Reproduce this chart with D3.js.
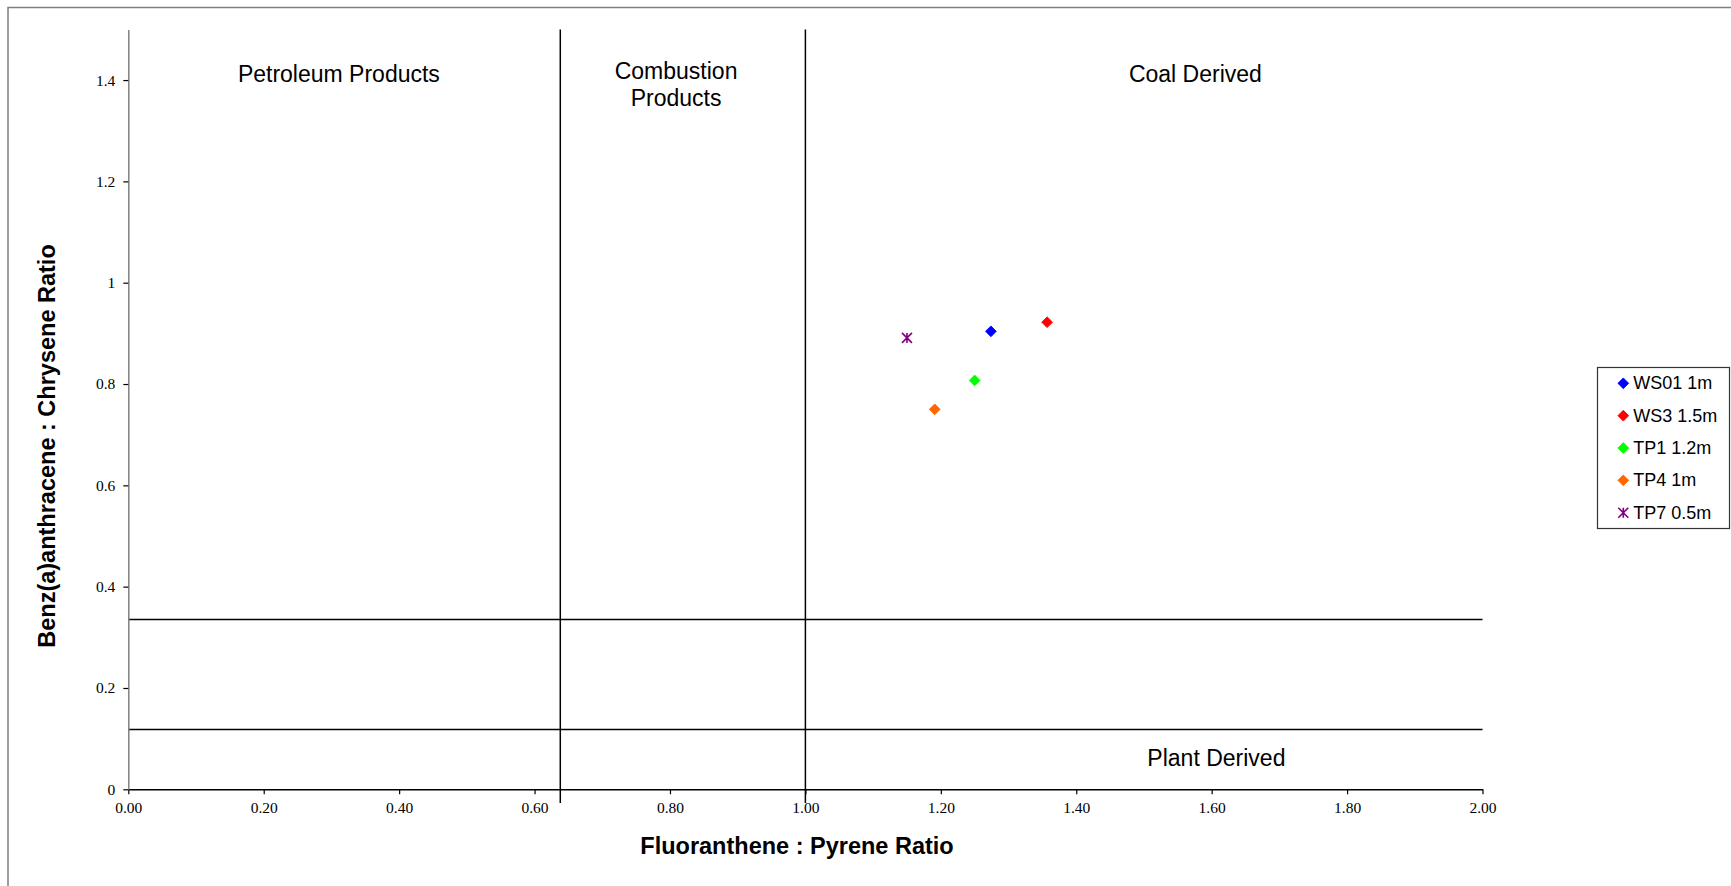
<!DOCTYPE html>
<html>
<head>
<meta charset="utf-8">
<script src="https://cdn.jsdelivr.net/npm/d3@7"></script>
<style>
  html, body { margin: 0; padding: 0; background: #fff; overflow: hidden; }
  svg { display: block; }
</style>
</head>
<body>
<svg id="chart" width="1731" height="886"></svg>
<script>
// ---- Data ----
const seriesNames = ["WS01 1m", "WS3 1.5m", "TP1 1.2m", "TP4 1m", "TP7 0.5m"];
const fluorPyrene = [1.274, 1.357, 1.250, 1.191, 1.150];   // x values
const benzChrysene = [0.904, 0.922, 0.807, 0.750, 0.891];  // y values

const xTicks = [0, 0.2, 0.4, 0.6, 0.8, 1.0, 1.2, 1.4, 1.6, 1.8, 2.0];
const yTicks = [0, 0.2, 0.4, 0.6, 0.8, 1.0, 1.2, 1.4];
const xTickLabels = ["0.00","0.20","0.40","0.60","0.80","1.00","1.20","1.40","1.60","1.80","2.00"];
const yTickLabels = ["0","0.2","0.4","0.6","0.8","1","1.2","1.4"];

// boundary lines (data coordinates)
const verticalBoundaries = [0.638, 1.0];
const horizontalBoundaries = [0.335, 0.118];

// region labels (data coordinate anchors)
const regionNames = [["Petroleum Products"], ["Combustion", "Products"], ["Coal Derived"], ["Plant Derived"]];
const regionX = [0.311, 0.809, 1.576, 1.607];
const regionY = [1.412, 1.417, 1.412, 0.061];

// ---- Styles ----
const seriesColors = ["#0000FF", "#FF0000", "#00FF00", "#FF6600", "#800080"];
const seriesShapes = ["diamond", "diamond", "diamond", "diamond", "asterisk"];
const sans = "'Liberation Sans', Arial, sans-serif";
const serif = "'Liberation Serif', 'Times New Roman', serif";

const svg = d3.select("#chart");

// outer chart-area border (clipped at right/bottom like the reference)
svg.append("rect")
  .attr("x", 8).attr("y", 7.5)
  .attr("width", 1760).attr("height", 920)
  .attr("fill", "none").attr("stroke", "#7f7f7f").attr("stroke-width", 1.5);

const x = d3.scaleLinear().domain([0, 2]).range([128.3, 1482.5]);
const y = d3.scaleLinear().domain([0, 1.5]).range([789.3, 29.4]);

// boundary lines
svg.append("g").selectAll("line.v").data(verticalBoundaries).join("line")
  .attr("x1", d => x(d)).attr("x2", d => x(d))
  .attr("y1", y(1.5)).attr("y2", y(-0.027))
  .attr("stroke", "#000").attr("stroke-width", 1.5);
svg.append("g").selectAll("line.h").data(horizontalBoundaries).join("line")
  .attr("x1", x(0)).attr("x2", x(2))
  .attr("y1", d => y(d)).attr("y2", d => y(d))
  .attr("stroke", "#000").attr("stroke-width", 1.5);

// axes
const xAxis = d3.axisBottom(x).tickValues(xTicks)
  .tickFormat((d, i) => xTickLabels[i]).tickSize(5).tickSizeOuter(0).tickPadding(8);
const gx = svg.append("g").attr("transform", `translate(0,${y(0)})`).call(xAxis);
gx.select(".domain").attr("stroke", "#000").attr("stroke-width", 1.5);
gx.selectAll(".tick line").attr("stroke", "#000").attr("stroke-width", 1.2);
gx.selectAll("text").attr("font-family", serif).attr("font-size", "15.5px").attr("fill", "#000");

const yAxis = d3.axisLeft(y).tickValues(yTicks)
  .tickFormat((d, i) => yTickLabels[i]).tickSize(5).tickSizeOuter(0).tickPadding(8);
const gy = svg.append("g").attr("transform", `translate(${x(0)},0)`).call(yAxis);
gy.select(".domain").attr("stroke", "#808080").attr("stroke-width", 1.5);
gy.selectAll(".tick line").attr("stroke", "#000").attr("stroke-width", 1.2);
gy.selectAll("text").attr("font-family", serif).attr("font-size", "15.5px").attr("fill", "#000");

// axis titles
svg.append("text")
  .attr("x", 797).attr("y", 846)
  .attr("text-anchor", "middle").attr("dominant-baseline", "central")
  .attr("font-family", sans).attr("font-weight", "bold").attr("font-size", "23.5px")
  .text("Fluoranthene : Pyrene Ratio");
svg.append("text")
  .attr("transform", "translate(47,446) rotate(-90)")
  .attr("text-anchor", "middle").attr("dominant-baseline", "central")
  .attr("font-family", sans).attr("font-weight", "bold").attr("font-size", "23.5px")
  .text("Benz(a)anthracene : Chrysene Ratio");

// region labels
regionNames.forEach((lines, i) => {
  const t = svg.append("text")
    .attr("text-anchor", "middle")
    .attr("font-family", sans).attr("font-size", "23px").attr("fill", "#000");
  lines.forEach((ln, j) => {
    t.append("tspan")
      .attr("x", x(regionX[i]))
      .attr("y", y(regionY[i]) + j * 26.7)
      .attr("dominant-baseline", "central")
      .text(ln);
  });
});

// markers
const diamondPath = d3.symbol().type(d3.symbolSquare).size(58)();
const asteriskPath = "M-5,-5L5,5M-5,5L5,-5M0,-5L0,5";
function drawMarker(g, shape, color) {
  if (shape === "diamond") {
    g.append("path").attr("d", diamondPath).attr("transform", "rotate(45)")
      .attr("fill", color).attr("stroke", color).attr("stroke-width", 0.8);
  } else {
    g.append("path").attr("d", asteriskPath)
      .attr("fill", "none").attr("stroke", color).attr("stroke-width", 1.6);
  }
}

const pts = seriesNames.map((n, i) => ({ name: n, x: fluorPyrene[i], y: benzChrysene[i], i }));
svg.append("g").selectAll("g").data(pts).join("g")
  .attr("transform", d => `translate(${x(d.x)},${y(d.y)})`)
  .each(function(d) { drawMarker(d3.select(this), seriesShapes[d.i], seriesColors[d.i]); });

// legend
const legend = svg.append("g");
legend.append("rect")
  .attr("x", 1597.5).attr("y", 367.5).attr("width", 132).attr("height", 161)
  .attr("fill", "#fff").attr("stroke", "#333").attr("stroke-width", 1.2);
const items = legend.selectAll("g.item").data(pts).join("g")
  .attr("transform", d => `translate(1623.3,${383.3 + d.i * 32.35})`);
items.each(function(d) { drawMarker(d3.select(this), seriesShapes[d.i], seriesColors[d.i]); });
items.append("text")
  .attr("x", 10).attr("y", 0).attr("dominant-baseline", "central")
  .attr("font-family", sans).attr("font-size", "18px").attr("fill", "#000")
  .text(d => d.name);
</script>
</body>
</html>
